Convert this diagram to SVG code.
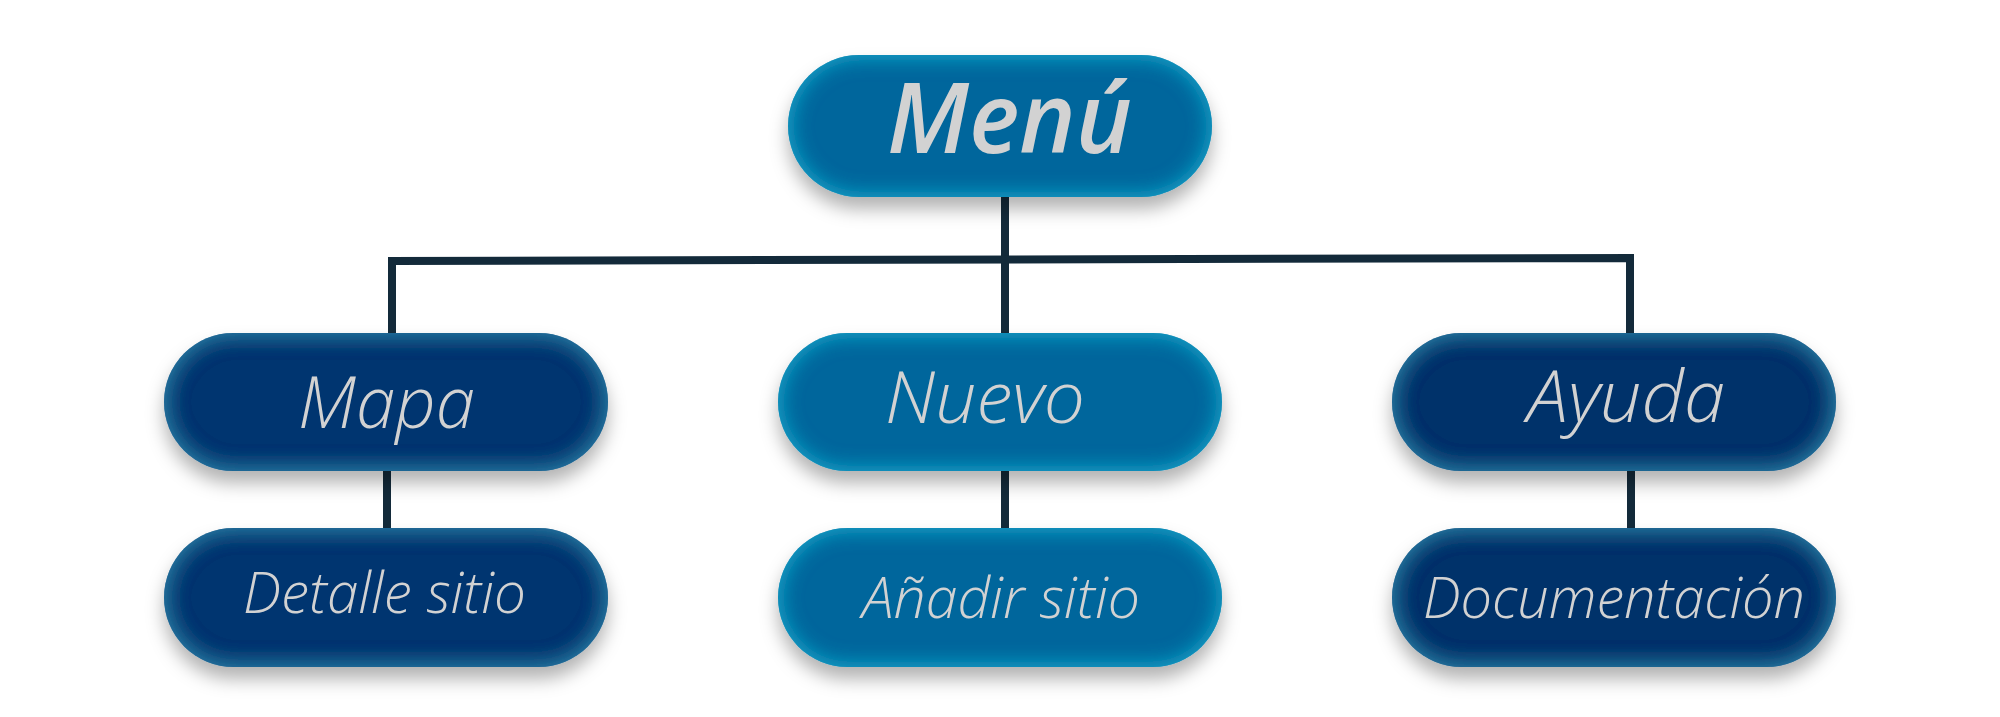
<svg xmlns="http://www.w3.org/2000/svg" width="2000" height="717" viewBox="0 0 2000 717">
<defs>
<style>
.conn{stroke:#132a3a;stroke-width:8;fill:none;stroke-linecap:butt}
.lbl{fill:#d2d2d2;font-family:"Open Sans","DejaVu Sans",sans-serif;font-style:italic;font-weight:300}
.title{fill:#d2d2d2;font-family:"Open Sans","DejaVu Sans",sans-serif;font-style:italic;font-weight:600}
</style>
<filter id="fl" x="-15%" y="-30%" width="130%" height="170%">
<feGaussianBlur in="SourceAlpha" stdDeviation="9" result="sb"/>
<feOffset in="sb" dy="12" result="so"/>
<feFlood flood-color="#000" flood-opacity="0.3"/>
<feComposite in2="so" operator="in" result="shadow"/>
<feGaussianBlur in="SourceAlpha" stdDeviation="11" result="ib"/>
<feComposite in="SourceAlpha" in2="ib" operator="out" result="inv"/>
<feFlood flood-color="#12aad0"/>
<feComposite in2="inv" operator="in" result="glow"/>
<feMerge><feMergeNode in="shadow"/><feMergeNode in="SourceGraphic"/><feMergeNode in="glow"/></feMerge>
</filter>
<filter id="fd" x="-15%" y="-30%" width="130%" height="170%">
<feGaussianBlur in="SourceAlpha" stdDeviation="9" result="sb"/>
<feOffset in="sb" dy="12" result="so"/>
<feFlood flood-color="#000" flood-opacity="0.3"/>
<feComposite in2="so" operator="in" result="shadow"/>
<feGaussianBlur in="SourceAlpha" stdDeviation="11" result="ib"/>
<feComposite in="SourceAlpha" in2="ib" operator="out" result="inv"/>
<feFlood flood-color="#2a86b0"/>
<feComposite in2="inv" operator="in" result="glow"/>
<feMerge><feMergeNode in="shadow"/><feMergeNode in="SourceGraphic"/><feMergeNode in="glow"/></feMerge>
</filter>
</defs>
<rect width="2000" height="717" fill="#ffffff"/>
<g id="connectors">
<line class="conn" x1="1005" y1="195" x2="1005" y2="335"/>
<polyline class="conn" points="392,333 392,261 1630,258 1630,333"/>
<line class="conn" x1="387" y1="469" x2="387" y2="530"/>
<line class="conn" x1="1005" y1="469" x2="1005" y2="530"/>
<line class="conn" x1="1631" y1="469" x2="1631" y2="532"/>
</g>
<g id="menu">
<rect x="788" y="55" width="424" height="142" rx="71" fill="#00669c" filter="url(#fl)"/>
<text class="title" x="887" y="153" font-size="98" textLength="245" lengthAdjust="spacingAndGlyphs">Menú</text>
</g>
<g id="mapa">
<rect x="164" y="333" width="444" height="138" rx="69" fill="#003470" filter="url(#fd)"/>
<text class="lbl" x="298" y="428" font-size="72" textLength="177" lengthAdjust="spacingAndGlyphs">Mapa</text>
</g>
<g id="nuevo">
<rect x="778" y="333" width="444" height="138" rx="69" fill="#00669c" filter="url(#fl)"/>
<text class="lbl" x="885" y="423" font-size="72" textLength="200" lengthAdjust="spacingAndGlyphs">Nuevo</text>
</g>
<g id="ayuda">
<rect x="1392" y="333" width="444" height="138" rx="69" fill="#00306a" filter="url(#fd)"/>
<text class="lbl" x="1527" y="422" font-size="72" textLength="198" lengthAdjust="spacingAndGlyphs">Ayuda</text>
</g>
<g id="detalle">
<rect x="164" y="528" width="444" height="139" rx="69.5" fill="#003470" filter="url(#fd)"/>
<text class="lbl" x="243" y="613" font-size="57" textLength="283" lengthAdjust="spacingAndGlyphs">Detalle sitio</text>
</g>
<g id="anadir">
<rect x="778" y="528" width="444" height="139" rx="69.5" fill="#00669c" filter="url(#fl)"/>
<text class="lbl" x="862" y="618" font-size="57" textLength="278" lengthAdjust="spacingAndGlyphs">Añadir sitio</text>
</g>
<g id="documentacion">
<rect x="1392" y="528" width="444" height="139" rx="69.5" fill="#00306a" filter="url(#fd)"/>
<text class="lbl" x="1423" y="618" font-size="57" textLength="382" lengthAdjust="spacingAndGlyphs">Documentación</text>
</g>
</svg>
